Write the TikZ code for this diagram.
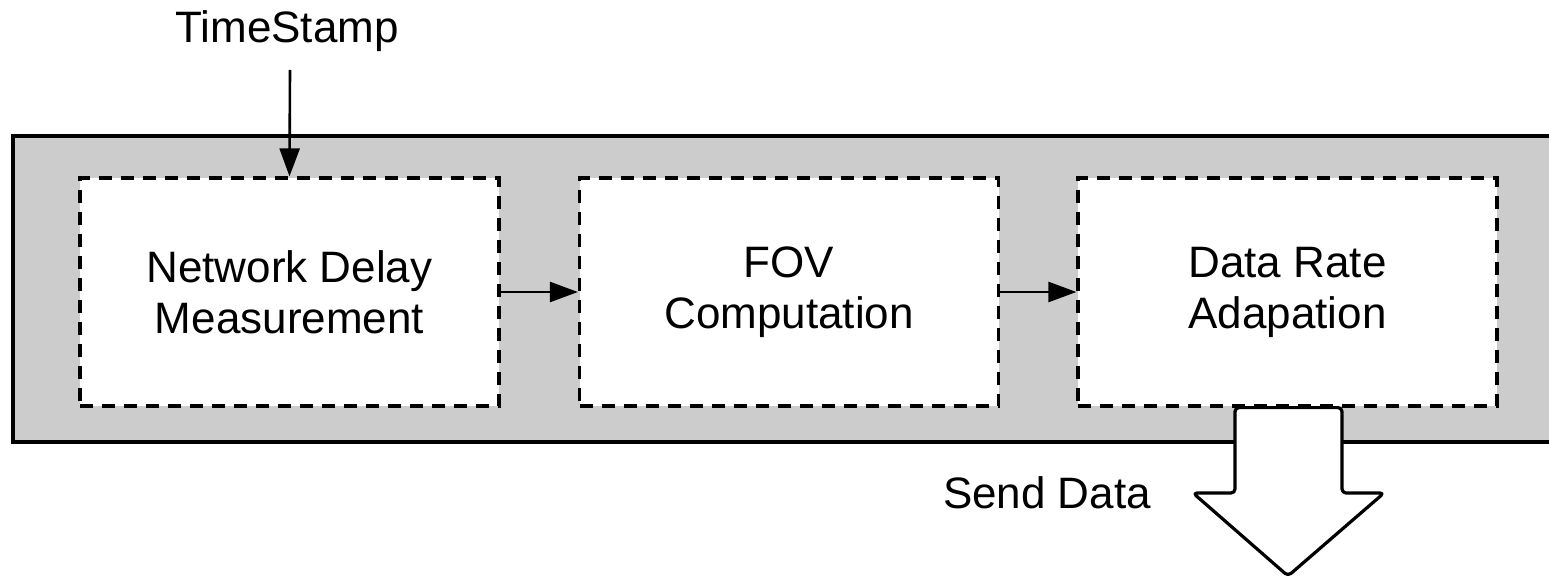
\documentclass[tikz,border=0pt]{standalone}
\usepackage{fontspec}
\setmainfont{Liberation Sans}
\usetikzlibrary{arrows.meta}
\tikzset{
  big/.style={font=\fontsize{44}{51}\selectfont},
  stage/.style={draw, dash pattern=on 13pt off 9pt, line width=3.2pt, fill=white,
    minimum width=419pt, minimum height=228pt, inner sep=0pt, align=center, big},
  flow/.style={line width=2.6pt, -{Triangle[length=28pt,width=20pt]}},
}
\begin{document}
\begin{tikzpicture}[x=1pt, y=-1pt]
\useasboundingbox (0,0) rectangle (1549,577);
\clip (0,0) rectangle (1549,577);
% grey processing band
\path[fill={rgb,255:red,204;green,204;blue,204}, draw=black, line width=3.4pt]
  (13,136) rectangle (1575,442);
% stages
\node[stage] (net) at (289.5,292) {Network Delay\\Measurement};
\node[stage] (fov) at (789,292) {FOV\\Computation};
\node[stage] (rate) at (1287.5,292) {Data Rate\\Adapation};
% timestamp input
\node[big, anchor=base] (ts) at (287,43) {TimeStamp};
\coordinate (tsin) at (290,70);
\draw[flow] (tsin) -- (net.north);
% stage connections
\draw[flow] (net.east) -- (fov.west);
\draw[flow] (fov.east) -- (rate.west);
% output arrow
\draw[line width=3.2pt, fill=white, rounded corners=4pt, line join=round]
  (rate.south -| 1235,0) -- (1235,493) -- (1193,493) -- (1288,576)
  -- (1384,493) -- (1342,493) -- (rate.south -| 1342,0) -- cycle;
\node[big, anchor=base] (send) at (1047,508) {Send Data};
\end{tikzpicture}
\end{document}
